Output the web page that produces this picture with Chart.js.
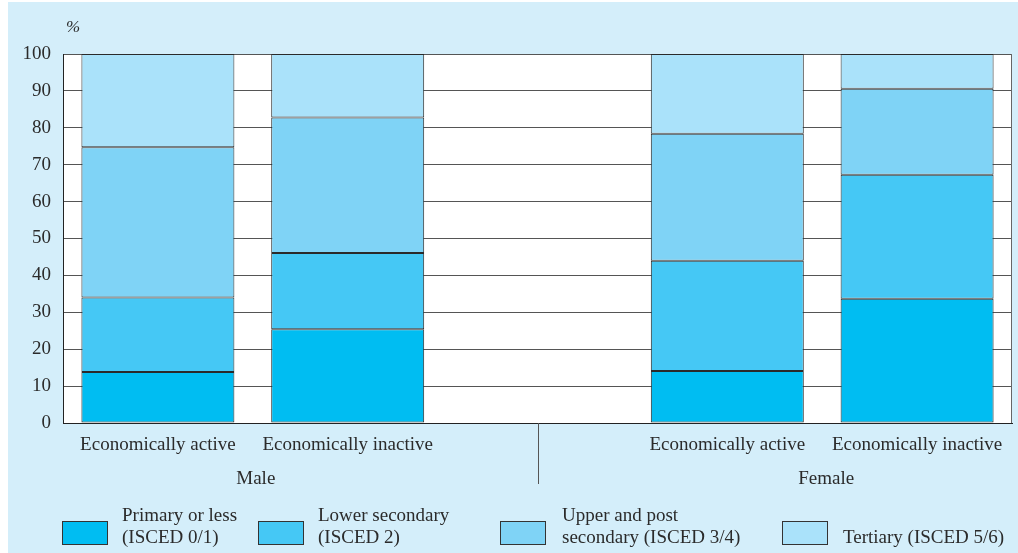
<!DOCTYPE html>
<html>
<head>
<meta charset="utf-8">
<script src="https://cdn.jsdelivr.net/npm/chart.js@4"></script>
<style>
  html, body { margin:0; padding:0; background:#fff; }
  #wrap { width:1018px; height:553px; position:relative; }
</style>
</head>
<body>
<div id="wrap"><canvas id="mychart" width="1018" height="553"></canvas></div>
<script>
// categories (middle slot left empty to split Male / Female)
var labels = ['Economically active', 'Economically inactive', '', 'Economically active', 'Economically inactive'];
var groups = ['Male', 'Female'];
var yTicks = [0, 10, 20, 30, 40, 50, 60, 70, 80, 90, 100];

// shares in %
var primary   = [13.8, 25.4, null, 14.1, 33.7];
var lowerSec  = [20.2, 20.7, null, 29.9, 33.6];
var upperSec  = [40.7, 36.7, null, 34.4, 23.3];
var tertiary  = [25.3, 17.2, null, 21.6, 9.4];

var seriesNames = [
  ['Primary or less', '(ISCED 0/1)'],
  ['Lower secondary', '(ISCED 2)'],
  ['Upper and post', 'secondary (ISCED 3/4)'],
  ['', 'Tertiary (ISCED 5/6)']
];
var colors = ['#00bdf2', '#45c8f5', '#7fd3f6', '#aae2fa'];

var FONT = '"Liberation Serif", "DejaVu Serif", serif';
var INK = '#2b2b2b';

// background panel, white plot area and extra decorations
var decor = {
  id: 'decor',
  beforeDraw: function(chart) {
    var c = chart.ctx, a = chart.chartArea;
    c.save();
    c.fillStyle = '#d4eefa';
    c.fillRect(8, 2, chart.width - 8, chart.height - 2);
    c.fillStyle = '#ffffff';
    c.fillRect(a.left, a.top, a.right - a.left, a.bottom - a.top);
    c.restore();
  },
  afterDraw: function(chart) {
    var c = chart.ctx, a = chart.chartArea;
    var x = chart.scales.x;
    c.save();
    // right frame
    c.strokeStyle = '#666';
    c.lineWidth = 1;
    c.beginPath();
    c.moveTo(Math.round(a.right) - 0.5, a.top);
    c.lineTo(Math.round(a.right) - 0.5, a.bottom);
    c.stroke();
    // divider between Male and Female
    var mid = Math.round(x.getPixelForValue(2)) + 0.5;
    c.strokeStyle = '#555';
    c.beginPath();
    c.moveTo(mid, a.bottom);
    c.lineTo(mid, a.bottom + 61);
    c.stroke();

    c.fillStyle = INK;
    c.font = '19px ' + FONT;
    c.textBaseline = 'middle';
    c.textAlign = 'center';
    c.fillText(groups[0], (x.getPixelForValue(0) + x.getPixelForValue(1)) / 2 + 3, 479);
    c.fillText(groups[1], (x.getPixelForValue(3) + x.getPixelForValue(4)) / 2 + 4, 479);

    // % unit
    c.font = 'italic 17px ' + FONT;
    c.textAlign = 'left';
    c.fillText('%', 66, 28);

    // legend
    var boxX = [62, 258, 500, 782];
    var textX = [122, 318, 562, 843];
    c.font = '19px ' + FONT;
    chart.data.datasets.forEach(function(ds, i) {
      c.fillStyle = ds.backgroundColor;
      c.fillRect(boxX[i], 521, 45, 23);
      c.strokeStyle = '#333';
      c.strokeRect(boxX[i] + 0.5, 521.5, 45, 23);
      c.fillStyle = INK;
      c.fillText(seriesNames[i][0], textX[i], 516);
      c.fillText(seriesNames[i][1], textX[i], 538);
    });
    c.restore();
  }
};

var names = seriesNames.map(function(n) { return (n[0] + ' ' + n[1]).trim(); });
var ctx = document.getElementById('mychart');
var myBarChart = new Chart(ctx, {
  type: 'bar',
  data: {
    labels: labels,
    datasets: [primary, lowerSec, upperSec, tertiary].map(function(d, i) {
      return {
        label: names[i],
        data: d,
        backgroundColor: colors[i],
        borderColor: '#2a2a2a',
        borderWidth: 1,
        borderSkipped: false,
        barPercentage: 0.806,
        categoryPercentage: 1.0
      };
    })
  },
  options: {
    responsive: false,
    animation: false,
    layout: { padding: { left: 0, top: 54, right: 6, bottom: 0 } },
    plugins: {
      legend: { display: false },
      tooltip: { enabled: false }
    },
    scales: {
      x: {
        stacked: true,
        grid: { display: false },
        border: { display: true, color: '#222', width: 1 },
        ticks: {
          color: INK,
          font: { family: FONT, size: 19 },
          padding: 3,
          maxRotation: 0,
          autoSkip: false
        },
        afterFit: function(scale) { scale.height = 130; }
      },
      y: {
        stacked: true,
        min: 0,
        max: 100,
        afterBuildTicks: function(scale) {
          scale.ticks = yTicks.map(function(v) { return { value: v }; });
        },
        grid: { color: '#555', lineWidth: 1, drawTicks: false },
        border: { display: true, color: '#222', width: 1 },
        ticks: {
          color: INK,
          font: { family: FONT, size: 19 },
          padding: 12
        },
        afterFit: function(scale) { scale.width = 63; }
      }
    }
  },
  plugins: [decor]
});
</script>
</body>
</html>
